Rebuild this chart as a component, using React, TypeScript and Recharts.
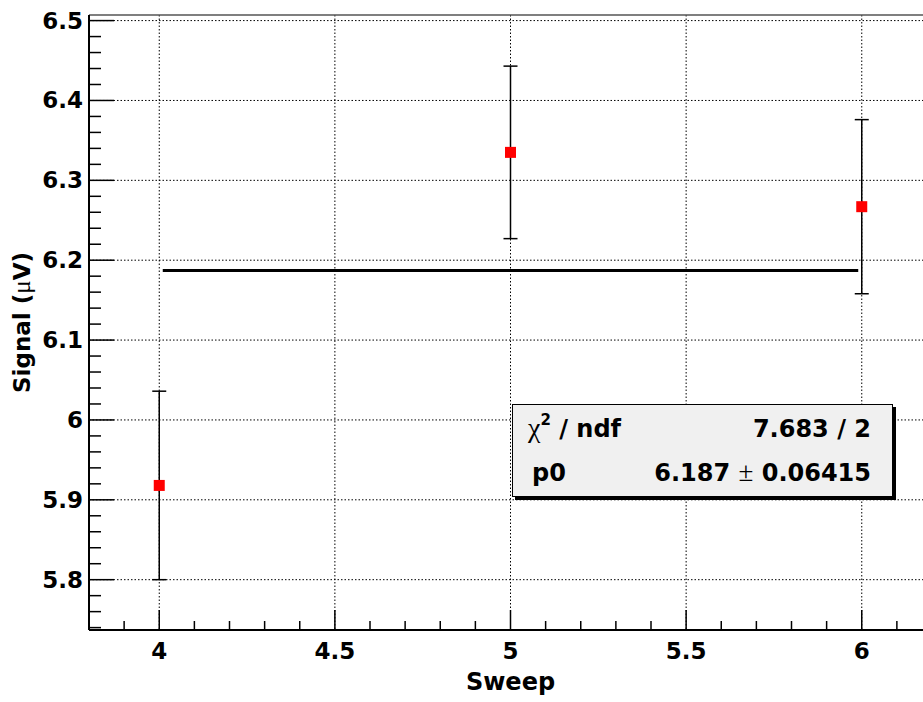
import React from 'react';
import {
    ComposedChart,
    Scatter,
    ErrorBar,
    XAxis,
    YAxis,
    CartesianGrid,
    ReferenceLine,
} from 'recharts';

// measured points (sweep, signal, error)
const sweeps = [4, 5, 6];
const signals = [5.918, 6.335, 6.267];
const errors = [0.118, 0.108, 0.109];

// constant fit result
const fitP0 = 6.187;
const fitP0Err = 0.06415;
const fitChi2 = 7.683;
const fitNdf = 2;
const fitRange = [4.01, 5.99];

const xDomain = [3.8, 6.2];
const yDomain = [5.737, 6.507];
const xMajor = [4, 4.5, 5, 5.5, 6];
const yMajor = [5.8, 5.9, 6, 6.1, 6.2, 6.3, 6.4, 6.5];
const xLabels = ['4', '4.5', '5', '5.5', '6'];
const yLabels = ['5.8', '5.9', '6', '6.1', '6.2', '6.3', '6.4', '6.5'];

const xTicks: number[] = [];
for (let i = 39; i <= 61; i++) xTicks.push(i / 10);
const yTicks: number[] = [];
for (let i = 287; i <= 325; i++) yTicks.push(i / 50);

const points = sweeps.map((x, i) => ({ x, y: signals[i], err: errors[i] }));

const FONT = '"DejaVu Sans", sans-serif';

const findMajor = (list: number[], v: number) =>
    list.findIndex((m) => Math.abs(m - v) < 1e-6);

const XTick = ({ x, y, payload }: any) => {
    const idx = findMajor(xMajor, payload.value);
    const major = idx >= 0;
    return (
        <g>
            <line x1={x} y1={y} x2={x} y2={y - (major ? 20 : 9)} stroke="#000" strokeWidth={1.5} />
            {major && (
                <text x={x} y={y + 29} textAnchor="middle" fontFamily={FONT} fontWeight="bold" fontSize={23} fill="#000">
                    {xLabels[idx]}
                </text>
            )}
        </g>
    );
};

const YTick = ({ x, y, payload }: any) => {
    const idx = findMajor(yMajor, payload.value);
    const major = idx >= 0;
    return (
        <g>
            <line x1={x} y1={y} x2={x + (major ? 25 : 12)} y2={y} stroke="#000" strokeWidth={1.5} />
            {major && (
                <text x={x - 6} y={y + 8} textAnchor="end" fontFamily={FONT} fontWeight="bold" fontSize={23} fill="#000">
                    {yLabels[idx]}
                </text>
            )}
        </g>
    );
};

const Marker = ({ cx, cy }: any) => (
    <rect x={cx - 5.5} y={cy - 5.5} width={11} height={11} fill="#ff0000" />
);

const StatsBox = () => (
    <svg
        width={392}
        height={100}
        style={{ position: 'absolute', left: 504, top: 396, overflow: 'visible' }}
    >
        <rect x={3} y={3} width={381} height={93} fill="#000" />
        <rect x={0.5} y={0.5} width={380} height={92} fill="#f0f0f0" stroke="#000" strokeWidth={1} />
        <text x={16} y={33} fontFamily={FONT} fontWeight="bold" fontSize={24} fill="#000">
            <tspan fontFamily='"Liberation Serif", serif' fontWeight="normal" fontSize={28}>χ</tspan>
            <tspan fontSize={15} dy={-12}>2</tspan>
            <tspan dy={12}> / ndf</tspan>
        </text>
        <text x={359} y={33} textAnchor="end" fontFamily={FONT} fontWeight="bold" fontSize={24} fill="#000">
            {`${fitChi2} / ${fitNdf}`}
        </text>
        <text x={20} y={77} fontFamily={FONT} fontWeight="bold" fontSize={24} fill="#000">
            p0
        </text>
        <text x={359} y={77} textAnchor="end" fontFamily={FONT} fontWeight="bold" fontSize={24} fill="#000">
            {`${fitP0} `}
            <tspan fontFamily='"Liberation Serif", serif' fontWeight="normal" fontSize={27}>±</tspan>
            {` ${fitP0Err}`}
        </text>
    </svg>
);

export default function App() {
    return (
        <div style={{ position: 'fixed', left: 0, top: 0, width: 923, height: 702, overflow: 'hidden', background: '#fff' }}>
            <div style={{ position: 'absolute', left: 8, top: 8, width: 924, height: 694 }}>
                <ComposedChart width={924} height={694} margin={{ top: 7, right: 0, bottom: 0, left: 0 }}>
                    <CartesianGrid
                        horizontalValues={yMajor}
                        verticalValues={xMajor}
                        stroke="#000"
                        strokeWidth={1}
                        strokeDasharray="1.5 2"
                    />
                    <XAxis
                        type="number"
                        dataKey="x"
                        domain={xDomain}
                        allowDataOverflow
                        ticks={xTicks}
                        interval={0}
                        tickSize={0}
                        tickMargin={0}
                        tickLine={false}
                        tick={<XTick />}
                        height={72}
                        axisLine={{ stroke: '#000', strokeWidth: 2 }}
                        label={{
                            content: ({ viewBox }: any) => (
                                <text
                                    x={viewBox.x + viewBox.width / 2}
                                    y={682}
                                    textAnchor="middle"
                                    fontFamily={FONT}
                                    fontWeight="bold"
                                    fontSize={24}
                                    fill="#000"
                                >
                                    Sweep
                                </text>
                            ),
                        }}
                    />
                    <YAxis
                        type="number"
                        dataKey="y"
                        domain={yDomain}
                        allowDataOverflow
                        ticks={yTicks}
                        interval={0}
                        tickSize={0}
                        tickMargin={0}
                        tickLine={false}
                        tick={<YTick />}
                        width={81}
                        axisLine={{ stroke: '#000', strokeWidth: 2 }}
                        label={{
                            content: ({ viewBox }: any) => {
                                const cy = viewBox.y + viewBox.height / 2;
                                return (
                                    <text
                                        x={22}
                                        y={cy}
                                        transform={`rotate(-90, 22, ${cy})`}
                                        textAnchor="middle"
                                        fontFamily={FONT}
                                        fontWeight="bold"
                                        fontSize={23}
                                        fill="#000"
                                    >
                                        Signal (
                                        <tspan fontFamily='"Liberation Serif", serif' fontWeight="normal" fontSize={25}>μ</tspan>
                                        V)
                                    </text>
                                );
                            },
                        }}
                    />
                    <ReferenceLine y={yDomain[1]} stroke="#555" strokeWidth={1.5} />
                    <ReferenceLine
                        segment={[
                            { x: fitRange[0], y: fitP0 },
                            { x: fitRange[1], y: fitP0 },
                        ]}
                        stroke="#000"
                        strokeWidth={3}
                    />
                    <Scatter data={points} dataKey="y" shape={<Marker />} isAnimationActive={false}>
                        <ErrorBar dataKey="err" direction="y" width={7} stroke="#000" strokeWidth={1.5} />
                    </Scatter>
                </ComposedChart>
                <StatsBox />
            </div>
        </div>
    );
}
